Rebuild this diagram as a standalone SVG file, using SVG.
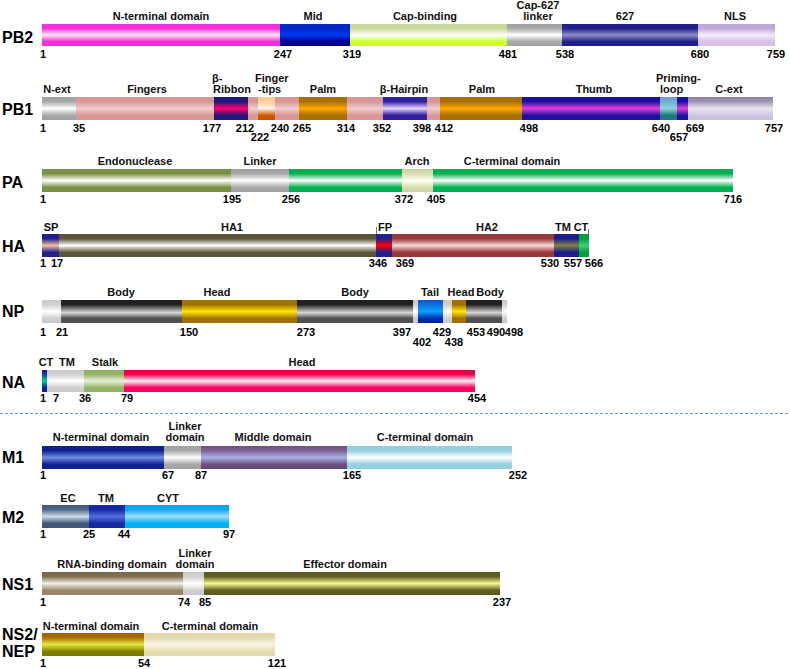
<svg xmlns="http://www.w3.org/2000/svg" width="790" height="669" viewBox="0 0 790 669">
<style>
.lbl{font-family:"Liberation Sans",Arial,sans-serif;font-weight:bold;font-size:16px;fill:#000}
.dom{font-family:"Liberation Sans",Arial,sans-serif;font-weight:bold;font-size:11px;fill:#111;text-anchor:middle}
.ds{font-family:"Liberation Sans",Arial,sans-serif;font-weight:bold;font-size:11px;fill:#111}
.num{font-family:"Liberation Sans",Arial,sans-serif;font-weight:bold;font-size:11px;fill:#000;text-anchor:middle}
.tick{stroke:#777;stroke-width:1}
</style>
<defs>
<linearGradient id="g-pb2n" x1="0" y1="0" x2="0" y2="1"><stop offset="0" stop-color="#f030d8"/><stop offset="0.2" stop-color="#f030d8"/><stop offset="0.5" stop-color="#fde6f8"/><stop offset="0.8" stop-color="#f030d8"/><stop offset="1" stop-color="#f030d8"/></linearGradient>
<linearGradient id="g-mid" x1="0" y1="0" x2="0" y2="1"><stop offset="0" stop-color="#0028c8"/><stop offset="0.2" stop-color="#0028c8"/><stop offset="0.5" stop-color="#0038f0"/><stop offset="0.8" stop-color="#000090"/><stop offset="1" stop-color="#000080"/></linearGradient>
<linearGradient id="g-cap" x1="0" y1="0" x2="0" y2="1"><stop offset="0" stop-color="#c8d898"/><stop offset="0.2" stop-color="#c8d898"/><stop offset="0.5" stop-color="#ffffff"/><stop offset="0.8" stop-color="#ccff33"/><stop offset="1" stop-color="#ccff33"/></linearGradient>
<linearGradient id="g-gray" x1="0" y1="0" x2="0" y2="1"><stop offset="0" stop-color="#a0a0a0"/><stop offset="0.2" stop-color="#a8a8a8"/><stop offset="0.5" stop-color="#ffffff"/><stop offset="0.8" stop-color="#a8a8a8"/><stop offset="1" stop-color="#a0a0a0"/></linearGradient>
<linearGradient id="g-627" x1="0" y1="0" x2="0" y2="1"><stop offset="0" stop-color="#202088"/><stop offset="0.2" stop-color="#202088"/><stop offset="0.5" stop-color="#9090c8"/><stop offset="0.8" stop-color="#202088"/><stop offset="1" stop-color="#202088"/></linearGradient>
<linearGradient id="g-nls" x1="0" y1="0" x2="0" y2="1"><stop offset="0" stop-color="#c0a8d8"/><stop offset="0.2" stop-color="#c0a8d8"/><stop offset="0.5" stop-color="#f4eef8"/><stop offset="0.8" stop-color="#d8c0e8"/><stop offset="1" stop-color="#d8c0e8"/></linearGradient>
<linearGradient id="g-fing" x1="0" y1="0" x2="0" y2="1"><stop offset="0" stop-color="#d89898"/><stop offset="0.2" stop-color="#d89898"/><stop offset="0.5" stop-color="#f0cccc"/><stop offset="0.8" stop-color="#d89898"/><stop offset="1" stop-color="#d89898"/></linearGradient>
<linearGradient id="g-ribbon" x1="0" y1="0" x2="0" y2="1"><stop offset="0" stop-color="#201878"/><stop offset="0.2" stop-color="#201878"/><stop offset="0.5" stop-color="#ff0070"/><stop offset="0.8" stop-color="#201878"/><stop offset="1" stop-color="#201878"/></linearGradient>
<linearGradient id="g-tips" x1="0" y1="0" x2="0" y2="1"><stop offset="0" stop-color="#ffc890"/><stop offset="0.2" stop-color="#ffd0a0"/><stop offset="0.5" stop-color="#fff0e0"/><stop offset="0.8" stop-color="#d05800"/><stop offset="1" stop-color="#c85000"/></linearGradient>
<linearGradient id="g-palm" x1="0" y1="0" x2="0" y2="1"><stop offset="0" stop-color="#a87000"/><stop offset="0.2" stop-color="#a87000"/><stop offset="0.5" stop-color="#ffa800"/><stop offset="0.8" stop-color="#a87000"/><stop offset="1" stop-color="#a87000"/></linearGradient>
<linearGradient id="g-hair" x1="0" y1="0" x2="0" y2="1"><stop offset="0" stop-color="#3020a0"/><stop offset="0.2" stop-color="#3020a0"/><stop offset="0.5" stop-color="#e8d0ff"/><stop offset="0.8" stop-color="#3020a0"/><stop offset="1" stop-color="#3020a0"/></linearGradient>
<linearGradient id="g-thumb" x1="0" y1="0" x2="0" y2="1"><stop offset="0" stop-color="#2010a0"/><stop offset="0.2" stop-color="#2010a0"/><stop offset="0.5" stop-color="#e040e0"/><stop offset="0.8" stop-color="#2010a0"/><stop offset="1" stop-color="#2010a0"/></linearGradient>
<linearGradient id="g-prime" x1="0" y1="0" x2="0" y2="1"><stop offset="0" stop-color="#7098c8"/><stop offset="0.2" stop-color="#70b0d0"/><stop offset="0.5" stop-color="#90d0e0"/><stop offset="0.8" stop-color="#207878"/><stop offset="1" stop-color="#207878"/></linearGradient>
<linearGradient id="g-cext" x1="0" y1="0" x2="0" y2="1"><stop offset="0" stop-color="#8a80a0"/><stop offset="0.2" stop-color="#a098b4"/><stop offset="0.5" stop-color="#eae4f2"/><stop offset="0.8" stop-color="#d0c8e0"/><stop offset="1" stop-color="#c8c0d8"/></linearGradient>
<linearGradient id="g-endo" x1="0" y1="0" x2="0" y2="1"><stop offset="0" stop-color="#7a9040"/><stop offset="0.2" stop-color="#7a9040"/><stop offset="0.5" stop-color="#ffffff"/><stop offset="0.8" stop-color="#7a9040"/><stop offset="1" stop-color="#7a9040"/></linearGradient>
<linearGradient id="g-pac" x1="0" y1="0" x2="0" y2="1"><stop offset="0" stop-color="#00b050"/><stop offset="0.2" stop-color="#00b050"/><stop offset="0.5" stop-color="#ffffff"/><stop offset="0.8" stop-color="#00b050"/><stop offset="1" stop-color="#00b050"/></linearGradient>
<linearGradient id="g-arch" x1="0" y1="0" x2="0" y2="1"><stop offset="0" stop-color="#c8d0a0"/><stop offset="0.2" stop-color="#d8dcb0"/><stop offset="0.5" stop-color="#fffff0"/><stop offset="0.8" stop-color="#d8dcb0"/><stop offset="1" stop-color="#c8d0a0"/></linearGradient>
<linearGradient id="g-sp" x1="0" y1="0" x2="0" y2="1"><stop offset="0" stop-color="#202090"/><stop offset="0.2" stop-color="#202090"/><stop offset="0.5" stop-color="#f0c0a0"/><stop offset="0.8" stop-color="#202090"/><stop offset="1" stop-color="#202090"/></linearGradient>
<linearGradient id="g-ha1" x1="0" y1="0" x2="0" y2="1"><stop offset="0" stop-color="#5a5438"/><stop offset="0.2" stop-color="#5a5438"/><stop offset="0.5" stop-color="#ffffff"/><stop offset="0.8" stop-color="#5a5438"/><stop offset="1" stop-color="#5a5438"/></linearGradient>
<linearGradient id="g-fp" x1="0" y1="0" x2="0" y2="1"><stop offset="0" stop-color="#202090"/><stop offset="0.2" stop-color="#202090"/><stop offset="0.5" stop-color="#ff0000"/><stop offset="0.8" stop-color="#202090"/><stop offset="1" stop-color="#202090"/></linearGradient>
<linearGradient id="g-ha2" x1="0" y1="0" x2="0" y2="1"><stop offset="0" stop-color="#983838"/><stop offset="0.2" stop-color="#983838"/><stop offset="0.5" stop-color="#f8d8d8"/><stop offset="0.8" stop-color="#983838"/><stop offset="1" stop-color="#983838"/></linearGradient>
<linearGradient id="g-tm" x1="0" y1="0" x2="0" y2="1"><stop offset="0" stop-color="#1c1c8c"/><stop offset="0.2" stop-color="#1c1c8c"/><stop offset="0.5" stop-color="#808048"/><stop offset="0.8" stop-color="#1c1c8c"/><stop offset="1" stop-color="#1c1c8c"/></linearGradient>
<linearGradient id="g-ct" x1="0" y1="0" x2="0" y2="1"><stop offset="0" stop-color="#00a040"/><stop offset="0.2" stop-color="#00a040"/><stop offset="0.5" stop-color="#40d070"/><stop offset="0.8" stop-color="#00a040"/><stop offset="1" stop-color="#00a040"/></linearGradient>
<linearGradient id="g-body" x1="0" y1="0" x2="0" y2="1"><stop offset="0" stop-color="#202020"/><stop offset="0.2" stop-color="#202020"/><stop offset="0.55" stop-color="#d8d8d8"/><stop offset="0.8" stop-color="#505050"/><stop offset="1" stop-color="#505050"/></linearGradient>
<linearGradient id="g-head" x1="0" y1="0" x2="0" y2="1"><stop offset="0" stop-color="#a07000"/><stop offset="0.2" stop-color="#a07000"/><stop offset="0.5" stop-color="#ffe800"/><stop offset="0.8" stop-color="#a07000"/><stop offset="1" stop-color="#a07000"/></linearGradient>
<linearGradient id="g-tail" x1="0" y1="0" x2="0" y2="1"><stop offset="0" stop-color="#1050d0"/><stop offset="0.2" stop-color="#1070e0"/><stop offset="0.5" stop-color="#10a0ff"/><stop offset="0.8" stop-color="#0030b0"/><stop offset="1" stop-color="#0020a0"/></linearGradient>
<linearGradient id="g-light" x1="0" y1="0" x2="0" y2="1"><stop offset="0" stop-color="#c8c8c8"/><stop offset="0.2" stop-color="#d0d0d0"/><stop offset="0.5" stop-color="#ffffff"/><stop offset="0.8" stop-color="#d0d0d0"/><stop offset="1" stop-color="#c8c8c8"/></linearGradient>
<linearGradient id="g-nact" x1="0" y1="0" x2="0" y2="1"><stop offset="0" stop-color="#1020a0"/><stop offset="0.2" stop-color="#1040a0"/><stop offset="0.5" stop-color="#00d090"/><stop offset="0.8" stop-color="#1020a0"/><stop offset="1" stop-color="#1020a0"/></linearGradient>
<linearGradient id="g-stalk" x1="0" y1="0" x2="0" y2="1"><stop offset="0" stop-color="#90b060"/><stop offset="0.2" stop-color="#98b468"/><stop offset="0.5" stop-color="#e8f0d8"/><stop offset="0.8" stop-color="#98b468"/><stop offset="1" stop-color="#90b060"/></linearGradient>
<linearGradient id="g-nahead" x1="0" y1="0" x2="0" y2="1"><stop offset="0" stop-color="#d80038"/><stop offset="0.2" stop-color="#f00050"/><stop offset="0.5" stop-color="#fff0f4"/><stop offset="0.8" stop-color="#ff0060"/><stop offset="1" stop-color="#ff0060"/></linearGradient>
<linearGradient id="g-m1n" x1="0" y1="0" x2="0" y2="1"><stop offset="0" stop-color="#102090"/><stop offset="0.2" stop-color="#102090"/><stop offset="0.5" stop-color="#7090e0"/><stop offset="0.8" stop-color="#102090"/><stop offset="1" stop-color="#102090"/></linearGradient>
<linearGradient id="g-m1mid" x1="0" y1="0" x2="0" y2="1"><stop offset="0" stop-color="#705080"/><stop offset="0.2" stop-color="#806090"/><stop offset="0.5" stop-color="#a8b0e8"/><stop offset="0.8" stop-color="#705080"/><stop offset="1" stop-color="#604878"/></linearGradient>
<linearGradient id="g-m1c" x1="0" y1="0" x2="0" y2="1"><stop offset="0" stop-color="#90d0e0"/><stop offset="0.2" stop-color="#98d0e0"/><stop offset="0.5" stop-color="#ffffff"/><stop offset="0.8" stop-color="#98d0e0"/><stop offset="1" stop-color="#90d0e0"/></linearGradient>
<linearGradient id="g-m2ec" x1="0" y1="0" x2="0" y2="1"><stop offset="0" stop-color="#405878"/><stop offset="0.2" stop-color="#506888"/><stop offset="0.5" stop-color="#d0dce8"/><stop offset="0.8" stop-color="#405878"/><stop offset="1" stop-color="#405878"/></linearGradient>
<linearGradient id="g-m2tm" x1="0" y1="0" x2="0" y2="1"><stop offset="0" stop-color="#1828a0"/><stop offset="0.2" stop-color="#1828a0"/><stop offset="0.5" stop-color="#5070e0"/><stop offset="0.8" stop-color="#1828a0"/><stop offset="1" stop-color="#1828a0"/></linearGradient>
<linearGradient id="g-cyt" x1="0" y1="0" x2="0" y2="1"><stop offset="0" stop-color="#10a0e8"/><stop offset="0.2" stop-color="#10a8ec"/><stop offset="0.5" stop-color="#a0e0ff"/><stop offset="0.8" stop-color="#00b0f0"/><stop offset="1" stop-color="#00b0f0"/></linearGradient>
<linearGradient id="g-rna" x1="0" y1="0" x2="0" y2="1"><stop offset="0" stop-color="#786848"/><stop offset="0.2" stop-color="#807050"/><stop offset="0.5" stop-color="#f0f0e8"/><stop offset="0.8" stop-color="#988868"/><stop offset="1" stop-color="#988868"/></linearGradient>
<linearGradient id="g-eff" x1="0" y1="0" x2="0" y2="1"><stop offset="0" stop-color="#585820"/><stop offset="0.2" stop-color="#606024"/><stop offset="0.5" stop-color="#f8f890"/><stop offset="0.8" stop-color="#606024"/><stop offset="1" stop-color="#585820"/></linearGradient>
<linearGradient id="g-ns2n" x1="0" y1="0" x2="0" y2="1"><stop offset="0" stop-color="#a06000"/><stop offset="0.2" stop-color="#a86c00"/><stop offset="0.5" stop-color="#e8e840"/><stop offset="0.8" stop-color="#808000"/><stop offset="1" stop-color="#787800"/></linearGradient>
<linearGradient id="g-ns2c" x1="0" y1="0" x2="0" y2="1"><stop offset="0" stop-color="#e0d8a8"/><stop offset="0.2" stop-color="#e4dcb0"/><stop offset="0.5" stop-color="#f8f4e0"/><stop offset="0.8" stop-color="#e4dcb0"/><stop offset="1" stop-color="#e0d8a8"/></linearGradient>
</defs>
<rect width="790" height="669" fill="#ffffff"/>

<g id="PB2">
<text class="lbl" x="2" y="43">PB2</text>
<rect x="42" y="24" width="238" height="22" fill="url(#g-pb2n)"/>
<rect x="280" y="24" width="70" height="22" fill="url(#g-mid)"/>
<rect x="350" y="24" width="157" height="22" fill="url(#g-cap)"/>
<rect x="507" y="24" width="55" height="22" fill="url(#g-gray)"/>
<rect x="562" y="24" width="136" height="22" fill="url(#g-627)"/>
<rect x="698" y="24" width="77" height="22" fill="url(#g-nls)"/>
<text class="dom" x="161" y="20">N-terminal domain</text>
<text class="dom" x="313" y="20">Mid</text>
<text class="dom" x="425" y="20">Cap-binding</text>
<text class="dom" x="538" y="9">Cap-627</text>
<text class="dom" x="538" y="20">linker</text>
<text class="dom" x="625" y="20">627</text>
<text class="dom" x="735" y="20">NLS</text>
<text class="num" x="43" y="58">1</text>
<text class="num" x="283" y="58">247</text>
<text class="num" x="352" y="58">319</text>
<text class="num" x="508" y="58">481</text>
<text class="num" x="565" y="58">538</text>
<text class="num" x="700" y="58">680</text>
<text class="num" x="776" y="58">759</text>
</g>

<g id="PB1">
<text class="lbl" x="2" y="115">PB1</text>
<rect x="42" y="97" width="34" height="23" fill="url(#g-gray)"/>
<rect x="76" y="97" width="138" height="23" fill="url(#g-fing)"/>
<rect x="214" y="97" width="34" height="23" fill="url(#g-ribbon)"/>
<rect x="248" y="97" width="10" height="23" fill="url(#g-fing)"/>
<rect x="258" y="97" width="17" height="23" fill="url(#g-tips)"/>
<rect x="275" y="97" width="24" height="23" fill="url(#g-fing)"/>
<rect x="299" y="97" width="48" height="23" fill="url(#g-palm)"/>
<rect x="347" y="97" width="36" height="23" fill="url(#g-fing)"/>
<rect x="383" y="97" width="44" height="23" fill="url(#g-hair)"/>
<rect x="427" y="97" width="13" height="23" fill="url(#g-fing)"/>
<rect x="440" y="97" width="82" height="23" fill="url(#g-palm)"/>
<rect x="522" y="97" width="138" height="23" fill="url(#g-thumb)"/>
<rect x="660" y="97" width="17" height="23" fill="url(#g-prime)"/>
<rect x="677" y="97" width="11" height="23" fill="url(#g-thumb)"/>
<rect x="688" y="97" width="85" height="23" fill="url(#g-cext)"/>
<text class="dom" x="57" y="93">N-ext</text>
<text class="dom" x="147" y="93">Fingers</text>
<text class="ds" x="212" y="82">β-</text>
<text class="ds" x="213" y="93">Ribbon</text>
<text class="ds" x="255" y="82">Finger</text>
<text class="ds" x="258" y="93">-tips</text>
<text class="dom" x="323" y="93">Palm</text>
<text class="dom" x="404" y="93">β-Hairpin</text>
<text class="dom" x="482" y="93">Palm</text>
<text class="dom" x="594" y="93">Thumb</text>
<text class="ds" x="656" y="82">Priming-</text>
<text class="ds" x="660" y="93">loop</text>
<text class="dom" x="729" y="93">C-ext</text>
<text class="num" x="43" y="132">1</text>
<text class="num" x="79" y="132">35</text>
<text class="num" x="212" y="132">177</text>
<text class="num" x="245" y="132">212</text>
<text class="num" x="260" y="141">222</text>
<text class="num" x="280" y="132">240</text>
<text class="num" x="302" y="132">265</text>
<text class="num" x="346" y="132">314</text>
<text class="num" x="382" y="132">352</text>
<text class="num" x="422" y="132">398</text>
<text class="num" x="444" y="132">412</text>
<text class="num" x="529" y="132">498</text>
<text class="num" x="661" y="132">640</text>
<text class="num" x="679" y="141">657</text>
<text class="num" x="695" y="132">669</text>
<text class="num" x="774" y="132">757</text>
</g>

<g id="PA">
<text class="lbl" x="2" y="188">PA</text>
<rect x="42" y="169" width="189" height="23" fill="url(#g-endo)"/>
<rect x="231" y="169" width="58" height="23" fill="url(#g-gray)"/>
<rect x="289" y="169" width="113" height="23" fill="url(#g-pac)"/>
<rect x="402" y="169" width="31" height="23" fill="url(#g-arch)"/>
<rect x="433" y="169" width="300" height="23" fill="url(#g-pac)"/>
<text class="dom" x="135" y="165">Endonuclease</text>
<text class="dom" x="260" y="165">Linker</text>
<text class="dom" x="417" y="165">Arch</text>
<text class="dom" x="512" y="165">C-terminal domain</text>
<text class="num" x="43" y="203">1</text>
<text class="num" x="232" y="203">195</text>
<text class="num" x="291" y="203">256</text>
<text class="num" x="404" y="203">372</text>
<text class="num" x="436" y="203">405</text>
<text class="num" x="733" y="203">716</text>
</g>

<g id="HA">
<text class="lbl" x="2" y="252">HA</text>
<rect x="42" y="234" width="17" height="23" fill="url(#g-sp)"/>
<rect x="59" y="234" width="317" height="23" fill="url(#g-ha1)"/>
<rect x="376" y="234" width="16" height="23" fill="url(#g-fp)"/>
<rect x="392" y="234" width="162" height="23" fill="url(#g-ha2)"/>
<rect x="554" y="234" width="25" height="23" fill="url(#g-tm)"/>
<rect x="579" y="234" width="10" height="23" fill="url(#g-ct)"/>
<line class="tick" x1="376.5" y1="227" x2="376.5" y2="234"/>
<line class="tick" x1="588.5" y1="229" x2="588.5" y2="234"/>
<text class="dom" x="51" y="231">SP</text>
<text class="dom" x="232" y="231">HA1</text>
<text class="dom" x="385" y="231">FP</text>
<text class="dom" x="487" y="231">HA2</text>
<text class="dom" x="563" y="231">TM</text>
<text class="dom" x="581" y="231">CT</text>
<text class="num" x="43" y="267">1</text>
<text class="num" x="57" y="267">17</text>
<text class="num" x="378" y="267">346</text>
<text class="num" x="405" y="267">369</text>
<text class="num" x="550" y="267">530</text>
<text class="num" x="573" y="267">557</text>
<text class="num" x="594" y="267">566</text>
</g>

<g id="NP">
<text class="lbl" x="2" y="317">NP</text>
<rect x="42" y="300" width="19" height="23" fill="url(#g-light)"/>
<rect x="61" y="300" width="121" height="23" fill="url(#g-body)"/>
<rect x="182" y="300" width="115" height="23" fill="url(#g-head)"/>
<rect x="297" y="300" width="116" height="23" fill="url(#g-body)"/>
<rect x="413" y="300" width="5" height="23" fill="url(#g-light)"/>
<rect x="418" y="300" width="25" height="23" fill="url(#g-tail)"/>
<rect x="443" y="300" width="9" height="23" fill="url(#g-light)"/>
<rect x="452" y="300" width="14" height="23" fill="url(#g-head)"/>
<rect x="466" y="300" width="36" height="23" fill="url(#g-body)"/>
<rect x="502" y="300" width="5" height="23" fill="url(#g-light)"/>
<text class="dom" x="121" y="296">Body</text>
<text class="dom" x="217" y="296">Head</text>
<text class="dom" x="355" y="296">Body</text>
<text class="dom" x="430" y="296">Tail</text>
<text class="dom" x="461" y="296">Head</text>
<text class="dom" x="490" y="296">Body</text>
<text class="num" x="43" y="336">1</text>
<text class="num" x="62" y="336">21</text>
<text class="num" x="189" y="336">150</text>
<text class="num" x="306" y="336">273</text>
<text class="num" x="402" y="336">397</text>
<text class="num" x="422" y="346">402</text>
<text class="num" x="442" y="336">429</text>
<text class="num" x="454" y="346">438</text>
<text class="num" x="476" y="336">453</text>
<text class="num" x="496" y="336">490</text>
<text class="num" x="514" y="336">498</text>
</g>

<g id="NA">
<text class="lbl" x="2" y="388">NA</text>
<rect x="42" y="370" width="5" height="22" fill="url(#g-nact)"/>
<rect x="47" y="370" width="37" height="22" fill="url(#g-light)"/>
<rect x="84" y="370" width="40" height="22" fill="url(#g-stalk)"/>
<rect x="124" y="370" width="351" height="22" fill="url(#g-nahead)"/>
<text class="dom" x="46" y="366">CT</text>
<text class="dom" x="67" y="366">TM</text>
<text class="dom" x="105" y="366">Stalk</text>
<text class="dom" x="302" y="366">Head</text>
<text class="num" x="43" y="402">1</text>
<text class="num" x="56" y="402">7</text>
<text class="num" x="85" y="402">36</text>
<text class="num" x="127" y="402">79</text>
<text class="num" x="477" y="402">454</text>
</g>

<g id="connectors">
<line x1="0" y1="413.5" x2="790" y2="413.5" stroke="#5b9bd5" stroke-width="1" stroke-dasharray="3 2"/>
</g>

<g id="M1">
<text class="lbl" x="2" y="463">M1</text>
<rect x="42" y="446" width="122" height="23" fill="url(#g-m1n)"/>
<rect x="164" y="446" width="37" height="23" fill="url(#g-gray)"/>
<rect x="201" y="446" width="146" height="23" fill="url(#g-m1mid)"/>
<rect x="347" y="446" width="165" height="23" fill="url(#g-m1c)"/>
<text class="dom" x="101" y="441">N-terminal domain</text>
<text class="dom" x="185" y="430">Linker</text>
<text class="dom" x="185" y="441">domain</text>
<text class="dom" x="273" y="441">Middle domain</text>
<text class="dom" x="425" y="441">C-terminal domain</text>
<text class="num" x="43" y="479">1</text>
<text class="num" x="168" y="479">67</text>
<text class="num" x="201" y="479">87</text>
<text class="num" x="352" y="479">165</text>
<text class="num" x="518" y="479">252</text>
</g>

<g id="M2">
<text class="lbl" x="2" y="523">M2</text>
<rect x="42" y="505" width="47" height="23" fill="url(#g-m2ec)"/>
<rect x="89" y="505" width="36" height="23" fill="url(#g-m2tm)"/>
<rect x="125" y="505" width="104" height="23" fill="url(#g-cyt)"/>
<text class="dom" x="68" y="502">EC</text>
<text class="dom" x="106" y="502">TM</text>
<text class="dom" x="168" y="502">CYT</text>
<text class="num" x="43" y="538">1</text>
<text class="num" x="89" y="538">25</text>
<text class="num" x="124" y="538">44</text>
<text class="num" x="229" y="538">97</text>
</g>

<g id="NS1">
<text class="lbl" x="2" y="590">NS1</text>
<rect x="42" y="572" width="141" height="23" fill="url(#g-rna)"/>
<rect x="183" y="572" width="21" height="23" fill="url(#g-light)"/>
<rect x="204" y="572" width="296" height="23" fill="url(#g-eff)"/>
<text class="dom" x="112" y="568">RNA-binding domain</text>
<text class="dom" x="195" y="557">Linker</text>
<text class="dom" x="195" y="568">domain</text>
<text class="dom" x="345" y="568">Effector domain</text>
<text class="num" x="43" y="606">1</text>
<text class="num" x="184" y="606">74</text>
<text class="num" x="205" y="606">85</text>
<text class="num" x="502" y="606">237</text>
</g>

<g id="NS2">
<text class="lbl" x="2" y="640">NS2/</text>
<text class="lbl" x="2" y="657">NEP</text>
<rect x="42" y="633" width="102" height="23" fill="url(#g-ns2n)"/>
<rect x="144" y="633" width="131" height="23" fill="url(#g-ns2c)"/>
<text class="dom" x="91" y="630">N-terminal domain</text>
<text class="dom" x="210" y="630">C-terminal domain</text>
<text class="num" x="43" y="667">1</text>
<text class="num" x="144" y="667">54</text>
<text class="num" x="277" y="667">121</text>
</g>
</svg>
